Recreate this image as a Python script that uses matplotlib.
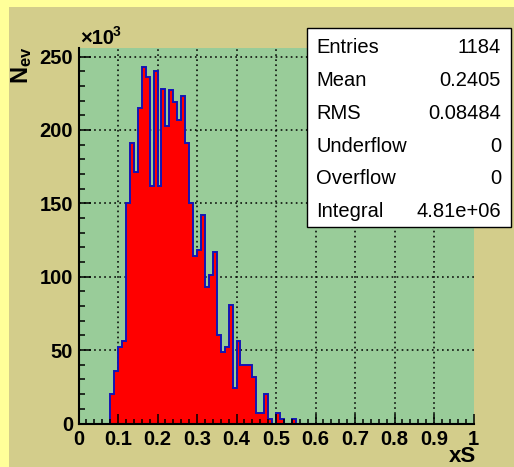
import numpy as np
import matplotlib
matplotlib.use("Agg")
import matplotlib.pyplot as plt
from matplotlib.patches import Rectangle

plt.rcParams['font.family'] = ['Liberation Sans', 'DejaVu Sans']
plt.rcParams['mathtext.fontset'] = 'custom'
plt.rcParams['mathtext.rm'] = 'Liberation Sans'
plt.rcParams['mathtext.bf'] = 'Liberation Sans:bold'
plt.rcParams['mathtext.it'] = 'Liberation Sans:italic'

# xS histogram, 100 bins on [0, 1], contents in units of 10^3
first_bin = 0.08
counts = [20, 36, 52, 56, 150, 191, 171, 215, 243, 236,
          162, 240, 162, 228, 203, 227, 219, 207, 223, 191,
          150, 114, 118, 142, 93, 101, 117, 60, 49, 52,
          81, 24, 56, 40, 40, 40, 32, 7, 7, 20,
          3, 0, 7, 3, 0, 0, 3]

xticks = [0, 0.1, 0.2, 0.3, 0.4, 0.5, 0.6, 0.7, 0.8, 0.9, 1.0]
xtick_labels = ['0', '0.1', '0.2', '0.3', '0.4', '0.5', '0.6', '0.7', '0.8', '0.9', '1']
yticks = [0, 50, 100, 150, 200, 250]
ytick_labels = ['0', '50', '100', '150', '200', '250']

stats_names = ['Entries', 'Mean', 'RMS', 'Underflow', 'Overflow', 'Integral']
stats_values = ['1184', '0.2405', '0.08484', '0', '0', '4.81e+06']

W, H = 514, 467
pad_color = '#D3CD8B'
edge_color = '#FFFF99'
frame_color = '#99CC99'

edges = np.linspace(0, 1, 101)
contents = np.zeros(100)
start = int(round(first_bin * 100))
contents[start:start + len(counts)] = counts

fig = plt.figure(figsize=(W / 100, H / 100), dpi=100)
fig.patch.set_facecolor(pad_color)
fig.add_artist(Rectangle((0, 0), 9 / W, 1, transform=fig.transFigure,
                         facecolor=edge_color, edgecolor='none', zorder=0))
fig.add_artist(Rectangle((0, 1 - 7 / H), 1, 7 / H, transform=fig.transFigure,
                         facecolor=edge_color, edgecolor='none', zorder=0))

left, right, top, bottom = 78.5, 473.5, 48, 423.5
ax = fig.add_axes([left / W, (H - bottom) / H, (right - left) / W, (bottom - top) / H])
ax.set_facecolor(frame_color)

# dotted grid under the histogram
for x in xticks[1:-1]:
    ax.axvline(x, color='black', lw=1.1, ls=(0, (1.1, 2.2)), zorder=0.5)
for y in yticks[1:]:
    ax.axhline(y, color='black', lw=1.1, ls=(0, (1.1, 2.2)), zorder=0.5)

ax.stairs(contents, edges, fill=True, color='red', baseline=0, zorder=1)
ax.stairs(contents, edges, fill=False, color='#1414b4', lw=1.4, baseline=0, zorder=1.2)

ax.set_xlim(0, 1)
ax.set_ylim(0, 255.8)
ax.set_xticks(xticks)
ax.set_xticklabels(xtick_labels)
ax.set_xticks(np.arange(0, 1.001, 0.02), minor=True)
ax.set_yticks(yticks)
ax.set_yticklabels(ytick_labels)
ax.set_yticks(np.arange(0, 256, 10), minor=True)

ax.tick_params(which='both', direction='in', top=False, right=False,
               color='black', width=1.1)
ax.tick_params(axis='x', which='major', length=7.5, pad=5)
ax.tick_params(axis='x', which='minor', length=3.8)
ax.tick_params(axis='y', which='major', length=8.6, pad=4)
ax.tick_params(axis='y', which='minor', length=4.3)
for lab in ax.get_xticklabels() + ax.get_yticklabels():
    lab.set_fontsize(14.5)
    lab.set_fontweight('bold')

for side in ['top', 'right']:
    ax.spines[side].set_visible(False)
for side in ['left', 'bottom']:
    ax.spines[side].set_linewidth(1.5)

# exponent above the y axis
fig.text(80 / W, 1 - 44 / H, '×10', fontsize=14.5, fontweight='bold',
         ha='left', va='baseline')
fig.text(113 / W, 1 - 36 / H, '3', fontsize=10, fontweight='bold',
         ha='left', va='baseline')

# axis titles
fig.text(476 / W, 1 - 462 / H, 'xS', fontsize=16, fontweight='bold',
         ha='right', va='baseline')
fig.text(22 / W, 1 - 46 / H, r'$\mathbf{N_{ev}}$', fontsize=17, rotation=90,
         ha='center', va='top')

# statistics box
bx0, bx1, by0, by1 = 307, 511, 28, 227
fig.add_artist(Rectangle((bx0 / W, 1 - by1 / H), (bx1 - bx0) / W, (by1 - by0) / H,
                         transform=fig.transFigure, facecolor='white',
                         edgecolor='black', lw=1.0, zorder=3))
for i, (name, val) in enumerate(zip(stats_names, stats_values)):
    yb = 1 - (53.3 + i * 32.8) / H
    fig.text(316 / W, yb, name, fontsize=14.5, ha='left', va='baseline', zorder=4)
    fig.text(501 / W, yb, val, fontsize=14.5, ha='right', va='baseline', zorder=4)

fig.savefig('out.png', dpi=100, facecolor=fig.get_facecolor())
